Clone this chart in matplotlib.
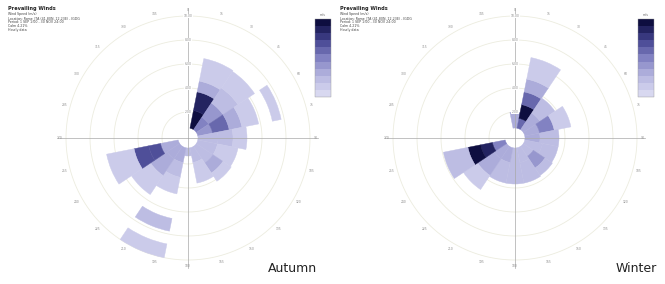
import numpy as np
import matplotlib.pyplot as plt
from matplotlib.colors import LinearSegmentedColormap, BoundaryNorm
from matplotlib.cm import ScalarMappable

# 16 compass directions, clockwise from north
directions = np.arange(16) * 22.5
hole = 10  # calm circle in the middle

# segment boundaries for each direction (from the calm circle outward)
# and the colour level of each segment; None = empty gap
autumn_bounds = [
    [], [10, 28, 47, 58, 81], [10, 25, 42, 60, 80], [10, 25, 42, 55, 72, 86, 95],
    [10, 30, 45, 59], [10, 30, 51], [10, 30, 42, 52], [10, 25, 46],
    [10, 18], [10, 25, 40, 57, 82, 95, 108, 122], [10, 25, 45, 68], [10, 28, 40, 55, 83],
    [], [], [], [],
]
autumn_levels = [
    [], [1.0, 0.85, 0.3, 0.12], [0.5, 0.45, 0.22, 0.12], [0.4, 0.6, 0.28, 0.14, None, 0.16],
    [0.25, 0.2, 0.12], [0.2, 0.15], [0.2, 0.35, 0.15], [0.2, 0.15],
    [0.25], [0.3, 0.22, 0.15, None, 0.2, None, 0.17], [0.35, 0.28, 0.15], [0.35, 0.65, 0.7, 0.17],
    [], [], [], [],
]

winter_bounds = [
    [10, 26], [10, 20, 34, 47, 60, 82], [10, 30, 48], [10, 25, 40, 57],
    [10, 25, 44], [10, 28, 44], [10, 22, 36, 45], [10, 25, 46],
    [10, 46], [10, 25, 46], [10, 25, 45, 62], [10, 23, 35, 48, 73],
    [], [], [], [],
]
winter_levels = [
    [0.3], [0.6, 1.0, 0.6, 0.3, 0.15], [0.3, 0.22], [0.3, 0.5, 0.15],
    [0.35, 0.25], [0.25, 0.2], [0.25, 0.42, 0.2], [0.25, 0.2],
    [0.22], [0.3, 0.25], [0.35, 0.3, 0.18], [0.5, 0.85, 0.95, 0.2],
    [], [], [], [],
]

ring_radii = [26, 50, 74, 98, 122]
ring_labels = ["2.00", "4.00", "6.00", "8.00", "10.00"]
angle_labels = np.arange(0, 360, 15)

header = ["Prevailing Winds", "Wind Speed (m/s)",
          "Location: Rome_ITA (41.80N, 12.23E) - IGDG",
          "Period: 1 SEP 1:00 - 30 NOV 24:00",
          "Calm 4.21%", "Hourly data"]

cmap = LinearSegmentedColormap.from_list(
    "wind", ["#d8d8f0", "#b6b6e0", "#8282c2", "#42428e", "#0e0e40"])
norm = BoundaryNorm(np.linspace(0, 1, 12), cmap.N)

fig = plt.figure(figsize=(6.65, 2.84), dpi=100)
W, H = 665, 284
R = 135


def rose(cx, cy, bounds, levels, title, label_x, bar_x):
    ax = fig.add_axes([(cx - R) / W, (H - cy - R) / H, 2 * R / W, 2 * R / H],
                      projection="polar")
    ax.set_theta_zero_location("N")
    ax.set_theta_direction(-1)
    ax.set_ylim(0, R)
    ax.patch.set_alpha(0)
    ax.spines["polar"].set_visible(False)
    ax.grid(False)
    ax.set_xticks([])
    ax.set_yticks([])

    full = np.linspace(0, 2 * np.pi, 361)
    for r in ring_radii:
        ax.plot(full, np.full_like(full, r), color="#ececdf", lw=0.6, zorder=1)

    w = np.deg2rad(22.5)
    for d, b, lv in zip(directions, bounds, levels):
        for lo, hi, v in zip(b[:-1], b[1:], lv):
            if v is None:
                continue
            c = cmap(norm(v))
            ax.bar(np.deg2rad(d), hi - lo, bottom=lo, width=w,
                   color=c, edgecolor=c, linewidth=0.3, zorder=2)

    for a in [0, 90, 180, 270]:
        ax.plot([np.deg2rad(a)] * 2, [0, 130], color="#a8a8a8", lw=0.5, zorder=3)

    for a in angle_labels:
        ax.text(np.deg2rad(a), 128, str(a), fontsize=2.2, color="#8a8a8a",
                ha="center", va="center", clip_on=False)
    for r, t in zip(ring_radii, ring_labels):
        ax.text(0, r, t, fontsize=2.2, color="#8a8a8a", ha="center", va="center",
                zorder=4, bbox=dict(fc="white", ec="none", pad=0.2))

    # header text
    fig.text(label_x / W, 1 - 6 / H, header[0], fontsize=3.6, fontweight="bold",
             va="top", color="#222222")
    for i, line in enumerate(header[1:]):
        fig.text(label_x / W, 1 - (12 + i * 4) / H, line, fontsize=2.3,
                 va="top", color="#444444")

    # legend bar
    cax = fig.add_axes([bar_x / W, 1 - 97 / H, 16 / W, 78 / H])
    sm = ScalarMappable(norm=norm, cmap=cmap)
    cb = fig.colorbar(sm, cax=cax)
    cb.outline.set_linewidth(0.3)
    cb.outline.set_edgecolor("#999999")
    cb.set_ticks([])
    cax.minorticks_off()
    cax.tick_params(length=0, labelsize=0)
    cax.text(0.5, 1.03, "m/s", transform=cax.transAxes, fontsize=2.3,
             ha="center", va="bottom", color="#666666")

    fig.text(title[1] / W, 1 - 269 / H, title[0], fontsize=9, ha="center",
             va="center", color="#222222")


rose(188, 138, autumn_bounds, autumn_levels, ("Autumn", 292), 8, 315)
rose(515, 138, winter_bounds, winter_levels, ("Winter", 636), 340, 638)

fig.savefig("out.png", dpi=100)
